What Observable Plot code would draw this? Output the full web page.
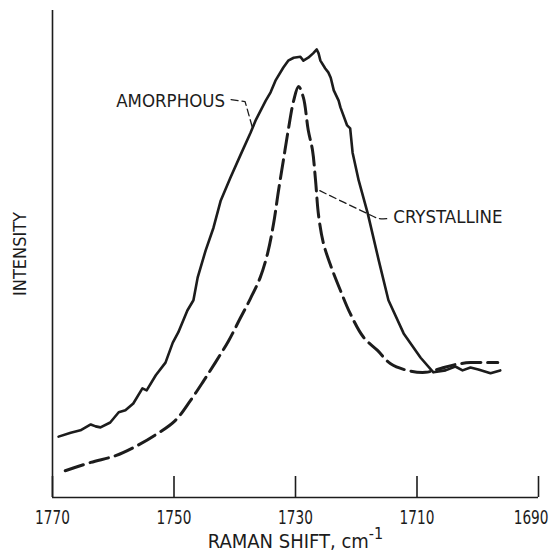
<!DOCTYPE html>
<html><head><meta charset="utf-8">
<script src="https://cdn.jsdelivr.net/npm/d3@7"></script>
<script src="https://cdn.jsdelivr.net/npm/@observablehq/plot@0.6"></script>
<style>
body{margin:0;background:#fff}
svg text{font-stretch:condensed}
</style>
</head><body><div id="chart"></div>
<script>
// Amorphous (solid) trace: Raman shift (cm-1) and relative intensity
const amorphousShift = [1769.0,1767.0,1765.4,1763.7,1762.9,1762.1,1760.5,1759.1,1758.0,1756.7,1755.2,1754.5,1753.0,1751.4,1750.2,1749.3,1747.8,1746.8,1746.1,1744.8,1743.5,1742.3,1740.7,1739.1,1737.4,1736.5,1734.9,1734.1,1733.3,1732.0,1731.2,1730.3,1729.2,1728.7,1727.9,1727.1,1726.5,1726.2,1725.9,1725.1,1724.6,1724.2,1723.7,1722.9,1722.6,1721.5,1721.0,1720.6,1719.6,1718.1,1716.3,1714.7,1712.2,1709.4,1707.3,1705.3,1703.7,1702.5,1701.2,1699.9,1697.9,1696.3];
const amorphousIntensity = [12.5,13.3,13.8,15.0,14.6,14.4,15.4,17.5,17.9,19.3,22.4,22.0,25.1,27.7,31.8,33.9,38.4,40.5,45.2,50.7,55.4,61.0,65.7,70.2,74.9,77.6,81.5,83.2,85.6,88.3,89.7,90.3,90.5,89.7,90.3,91.2,92.0,91.2,89.7,88.1,87.3,86.2,83.6,81.5,80.1,76.4,75.8,70.8,65.1,58.3,48.7,40.5,33.7,28.7,25.7,26.1,26.9,26.1,26.7,26.3,25.5,26.1];

// Crystalline (dashed) trace
const crystallineShift = [1767.9,1763.7,1759.6,1756.3,1753.0,1749.8,1747.3,1745.1,1743.2,1741.0,1739.1,1737.4,1735.8,1734.6,1733.6,1732.8,1732.0,1731.2,1730.3,1729.5,1728.7,1727.9,1727.2,1726.7,1726.2,1725.4,1724.2,1722.6,1721.0,1718.8,1716.5,1714.4,1711.6,1708.6,1706.1,1703.7,1701.2,1698.7,1696.7];
const crystallineIntensity = [5.5,7.2,8.6,10.5,12.9,15.8,19.9,24.0,27.7,32.2,36.8,40.9,45.2,50.1,56.3,63.0,69.2,75.4,81.5,84.4,82.1,75.4,71.3,65.1,57.9,52.2,47.6,42.5,37.8,32.9,30.2,27.5,26.1,25.7,26.5,27.3,27.7,27.7,27.7];

// Axis
const tickValues = [1770, 1750, 1730, 1710, 1690];
const tickLabels = ["1770", "1750", "1730", "1710", "1690"];
const xTitle = "RAMAN SHIFT, cm";
const xTitleSup = "-1";
const yTitle = "INTENSITY";

// Curve labels and leader lines
const labelNames = ["AMORPHOUS", "CRYSTALLINE"];
const labelShift = [1741.6, 1713.9];
const labelIntensity = [81.3, 57.5];
const amorphousLeaderShift = [1740.6, 1738.3, 1737.1];
const amorphousLeaderIntensity = [81.7, 81.3, 76.0];
const crystallineLeaderShift = [1726.0, 1718.5, 1716.3, 1714.5];
const crystallineLeaderIntensity = [63.0, 58.5, 57.3, 57.3];

const amorphous = amorphousShift.map((x, i) => ({x, y: amorphousIntensity[i]}));
const crystalline = crystallineShift.map((x, i) => ({x, y: crystallineIntensity[i]}));
const ticks = tickValues.map((v, i) => ({v, label: tickLabels[i]}));
const innerTicks = ticks.slice(0, -1);
const lastTick = ticks.slice(-1);
const aLead = amorphousLeaderShift.map((x, i) => ({x, y: amorphousLeaderIntensity[i]}));
const cLead = crystallineLeaderShift.map((x, i) => ({x, y: crystallineLeaderIntensity[i]}));

const ink = "#1c1c1c";
const font = "'DejaVu Sans Condensed', 'DejaVu Sans', sans-serif";

const chart = Plot.plot({
  width: 550,
  height: 554,
  marginLeft: 52,
  marginRight: 12,
  marginTop: 10,
  marginBottom: 57,
  style: {fontFamily: font, background: "#fff", color: ink},
  x: {domain: [1770, 1690], axis: null},
  y: {domain: [0, 100], axis: null},
  marks: [
    Plot.ruleX([1770], {stroke: ink, strokeWidth: 1.6}),
    Plot.ruleY([0], {stroke: ink, strokeWidth: 1.6}),
    Plot.tickX(ticks, {x: "v", stroke: ink, strokeWidth: 1.6, insetTop: 466}),
    Plot.text(innerTicks, {x: "v", text: "label", frameAnchor: "bottom", dy: 26, fontSize: 19, fill: ink, className: "ticklabels"}),
    Plot.text(lastTick, {x: "v", text: "label", frameAnchor: "bottom", dy: 26, dx: 10, textAnchor: "end", fontSize: 19, fill: ink, className: "ticklabels"}),
    Plot.text([xTitle], {frameAnchor: "bottom", dy: 50, fontSize: 20, fill: ink, className: "xtitle"}),
    Plot.text([yTitle], {frameAnchor: "left", rotate: -90, dx: -32, textAnchor: "middle", fontSize: 18, fill: ink}),
    Plot.line(amorphous, {x: "x", y: "y", stroke: ink, strokeWidth: 2.6, curve: "linear", strokeLinejoin: "round"}),
    Plot.line(crystalline, {x: "x", y: "y", stroke: ink, strokeWidth: 3, curve: "catmull-rom", strokeDasharray: "19,7"}),
    Plot.line(aLead, {x: "x", y: "y", stroke: ink, strokeWidth: 1.3, strokeDasharray: "7,4"}),
    Plot.line(cLead, {x: "x", y: "y", stroke: ink, strokeWidth: 1.3, strokeDasharray: "7,4", curve: "catmull-rom"}),
    Plot.text([labelNames[0]], {x: labelShift[0], y: labelIntensity[0], textAnchor: "end", fontSize: 18.5, fill: ink}),
    Plot.text([labelNames[1]], {x: labelShift[1], y: labelIntensity[1], textAnchor: "start", fontSize: 18.5, fill: ink})
  ]
});
document.getElementById("chart").appendChild(chart);
// narrow the tick-label digits horizontally, as in the reference's condensed typeface
d3.select(chart).selectAll(".ticklabels text").each(function() {
  const t = this.getAttribute("transform") || "";
  const x = +(this.getAttribute("x") || 0), y = +(this.getAttribute("y") || 0);
  this.removeAttribute("x"); this.removeAttribute("y");
  this.setAttribute("transform", `${t} translate(${x},${y}) scale(0.8,1)`);
});
d3.select(chart).selectAll(".xtitle text").each(function() {
  d3.select(this).append("tspan").attr("dy", "-0.55em").attr("font-size", "0.8em").text(xTitleSup);
});
</script>
</body></html>
